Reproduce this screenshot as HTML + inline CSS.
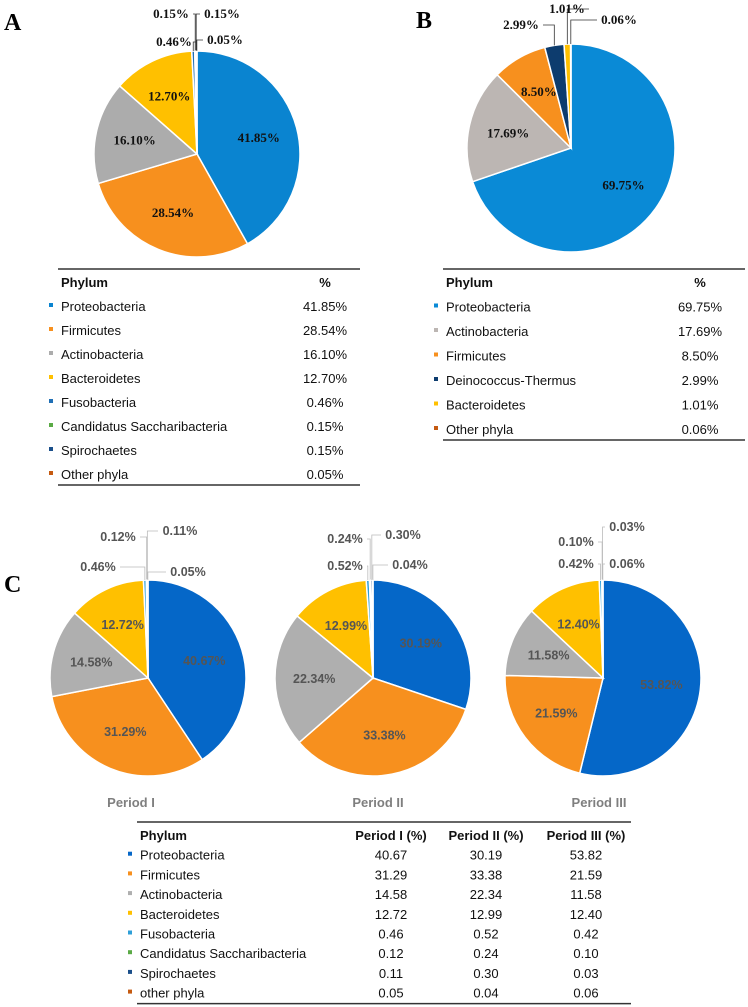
<!DOCTYPE html>
<html><head><meta charset="utf-8">
<style>
body{margin:0;background:#fff;}
svg{display:block;}
.tl{font-family:"Liberation Sans",sans-serif;font-size:13px;fill:#111;}
.th{font-family:"Liberation Sans",sans-serif;font-size:13px;font-weight:bold;fill:#111;}
.pl{font-family:"Liberation Serif",serif;font-weight:bold;font-size:13px;fill:#111;}
.cl{font-family:"Liberation Sans",sans-serif;font-weight:bold;font-size:12.5px;fill:#555;}
</style></head><body>
<svg id="fig" width="748" height="1007" viewBox="0 0 748 1007" xmlns="http://www.w3.org/2000/svg">
<text x="4" y="30" font-family="Liberation Serif" font-weight="bold" font-size="24">A</text>
<text x="416" y="28" font-family="Liberation Serif" font-weight="bold" font-size="24">B</text>
<text x="4" y="592" font-family="Liberation Serif" font-weight="bold" font-size="24">C</text>
</svg>
<script>
const phylaA = ["Proteobacteria","Firmicutes","Actinobacteria","Bacteroidetes","Fusobacteria","Candidatus Saccharibacteria","Spirochaetes","Other phyla"];
const valuesA = [41.85,28.54,16.10,12.70,0.46,0.15,0.15,0.05];
const colorsA = ["#0a84d0","#f7901e","#acacac","#ffc000","#1f6fb5","#5aaa46","#1a4f8a","#c55a11"];
const phylaB = ["Proteobacteria","Actinobacteria","Firmicutes","Deinococcus-Thermus","Bacteroidetes","Other phyla"];
const valuesB = [69.75,17.69,8.50,2.99,1.01,0.06];
const colorsB = ["#0a8ad6","#bcb6b3","#f7901e","#0d3c6e","#ffc000","#c55a11"];
const phylaC = ["Proteobacteria","Firmicutes","Actinobacteria","Bacteroidetes","Fusobacteria","Candidatus Saccharibacteria","Spirochaetes","other phyla"];
const periods = ["Period I","Period II","Period III"];
const valuesC1 = [40.67,31.29,14.58,12.72,0.46,0.12,0.11,0.05];
const valuesC2 = [30.19,33.38,22.34,12.99,0.52,0.24,0.30,0.04];
const valuesC3 = [53.82,21.59,11.58,12.40,0.42,0.10,0.03,0.06];
const colorsC = ["#0567c8","#f7901e","#afafaf","#ffc000","#2e9fd8","#5aaa46","#1a4f8a","#c55a11"];

const NS="http://www.w3.org/2000/svg";
const svg=document.getElementById('fig');
function mk(tag,attrs,parent){const e=document.createElementNS(NS,tag);for(const k in attrs)e.setAttribute(k,attrs[k]);(parent||svg).appendChild(e);return e;}
function pt(cx,cy,r,frac){const a=frac*2*Math.PI;return [cx+r*Math.sin(a),cy-r*Math.cos(a)];}

function drawPie(cx,cy,r,vals,cols,names,labelCls,largeR,smallLayout,pieName,fmt,lineCol){
  const g=mk('g',{});
  
  
  const tot=vals.reduce((a,b)=>a+b,0);
  let acc=0;
  vals.forEach((v,i)=>{
    const f0=acc/tot,f1=(acc+v)/tot;acc+=v;
    const p0=pt(cx,cy,r,f0),p1=pt(cx,cy,r,f1);
    const large=(f1-f0)>0.5?1:0;
    const p=mk('path',{d:`M${cx},${cy}L${p0[0]},${p0[1]}A${r},${r} 0 ${large} 1 ${p1[0]},${p1[1]}Z`,fill:cols[i],stroke:'#fff','stroke-width':1.5},g);
    
    
    const mid=(f0+f1)/2;
    let tx,ty;
    const si=smallLayout.findIndex(s=>s[0]===i);
    if(si<0){const q=pt(cx,cy,r*largeR,mid);tx=q[0];ty=q[1]+4;}
    else{
      const s=smallLayout[si];tx=s[1];ty=s[2];
      const e=pt(cx,cy,r,mid);
      const ex=tx+(tx<e[0]?22:-22);
      mk('polyline',{points:`${ex},${ty-4} ${e[0]},${ty-4} ${e[0]},${e[1]}`,fill:'none',stroke:lineCol,'stroke-width':0.8},g);
    }
    const t=mk('text',{x:tx,y:ty,'text-anchor':'middle',class:labelCls},g);
    t.textContent=fmt(v);
    if(labelCls==='cl'&&i===0)t.setAttribute('fill','#2b4f7a');
    
    
  });
}
const pf=v=>v.toFixed(2)+'%';
drawPie(197,154,103,valuesA,colorsA,phylaA,'pl',0.62,[[4,174,46],[5,171,18],[6,222,18],[7,225,44]],'pie-a',pf,'#333');
drawPie(571,148,104,valuesB,colorsB,phylaB,'pl',0.62,[[3,521,29],[4,567,13],[5,619,24]],'pie-b',pf,'#333');
const cxs=[148,373,603];
const smallC=[
 [[4,98,571],[5,118,541],[6,180,535],[7,188,576]],
 [[4,345,570],[5,345,543],[6,403,539],[7,410,569]],
 [[4,576,568],[5,576,546],[6,627,531],[7,627,568]]];
[valuesC1,valuesC2,valuesC3].forEach((vals,k)=>{
  drawPie(cxs[k],678,98,vals,colorsC,phylaC,'cl',0.6,smallC[k],'pie-period-'+(k+1),pf,'#bbb');
  const t=mk('text',{x:[131,378,599][k],y:807,'text-anchor':'middle','font-family':'Liberation Sans','font-weight':'bold','font-size':13,fill:'#7f7f7f'});
  t.textContent=periods[k];
  
  
});

function table(x0,x1,yTop,rowH,names,cols,valCols,colX,headers,name,fmt){
  const g=mk('g',{});
  
  
  mk('line',{x1:x0,x2:x1,y1:yTop,y2:yTop,stroke:'#333','stroke-width':1.5},g);
  const h=mk('text',{x:x0+3,y:yTop+18,class:'th'},g);h.textContent='Phylum';
  headers.forEach((hd,j)=>{const t=mk('text',{x:colX[j],y:yTop+18,class:'th','text-anchor':'middle'},g);t.textContent=hd;});
  names.forEach((n,i)=>{
    const y=yTop+18+rowH*(i+1);
    mk('rect',{x:x0-9,y:y-8,width:4,height:4,fill:cols[i]},g);
    const t=mk('text',{x:x0+3,y:y,class:'tl'},g);t.textContent=n;
    
    
    valCols.forEach((vs,j)=>{const v=mk('text',{x:colX[j],y:y,class:'tl','text-anchor':'middle'},g);v.textContent=fmt(vs[i]);});
  });
  const yb=yTop+18+rowH*names.length+6;
  mk('line',{x1:x0,x2:x1,y1:yb,y2:yb,stroke:'#333','stroke-width':1.5},g);
}
table(58,360,269,24,phylaA,colorsA,[valuesA],[325],['%'],'table-a',pf);
table(443,745,269,24.5,phylaB,colorsB,[valuesB],[700],['%'],'table-b',pf);
table(137,631,822,19.7,phylaC,colorsC,[valuesC1,valuesC2,valuesC3],[391,486,586],['Period I (%)','Period II (%)','Period III (%)'],'table-c',v=>v.toFixed(2));
</script>
</body></html>
